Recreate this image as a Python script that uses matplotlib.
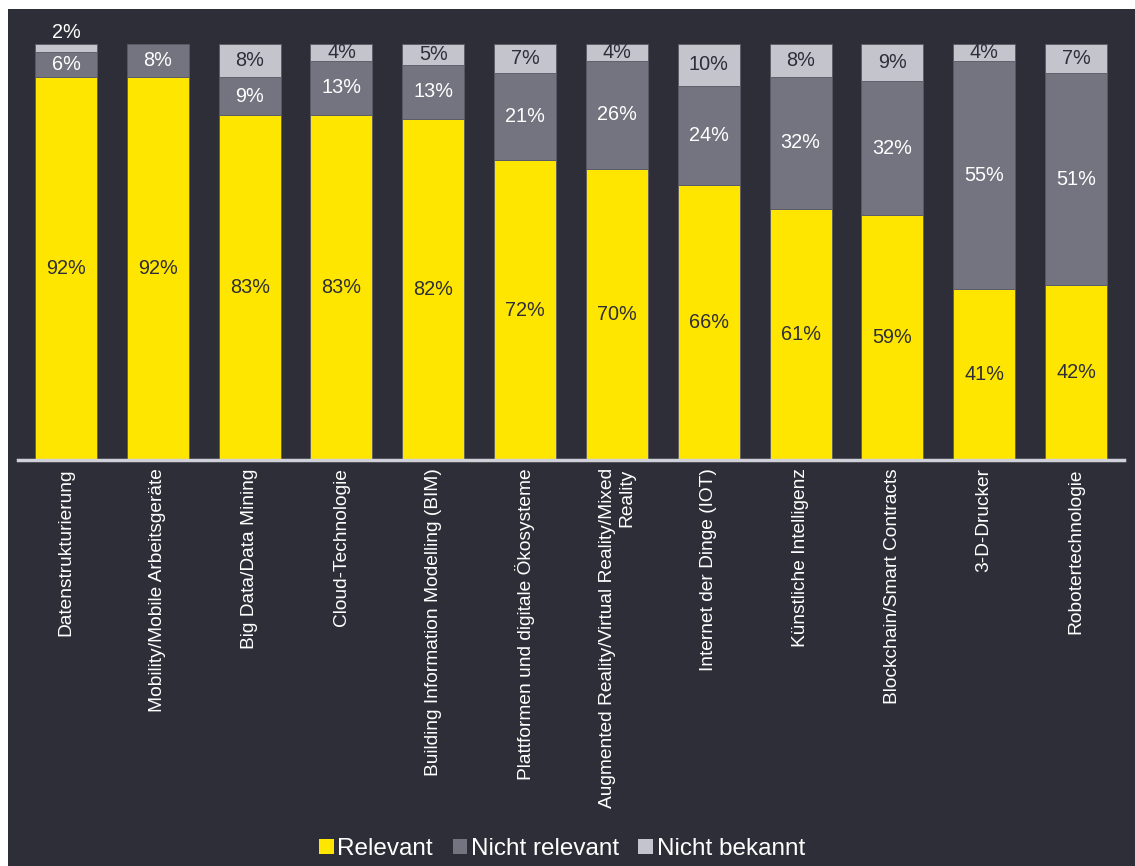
import matplotlib
matplotlib.use("Agg")
import matplotlib.pyplot as plt
from matplotlib.patches import Rectangle, Patch
import numpy as np

plt.rcParams['font.family'] = ['Liberation Sans', 'DejaVu Sans']

# data
categories = [
    "Datenstrukturierung",
    "Mobility/Mobile Arbeitsgeräte",
    "Big Data/Data Mining",
    "Cloud-Technologie",
    "Building Information Modelling (BIM)",
    "Plattformen und digitale Ökosysteme",
    "Augmented Reality/Virtual Reality/Mixed\nReality",
    "Internet der Dinge (IOT)",
    "Künstliche Intelligenz",
    "Blockchain/Smart Contracts",
    "3-D-Drucker",
    "Robotertechnologie",
]
relevant = [92, 92, 83, 83, 82, 72, 70, 66, 61, 59, 41, 42]
nicht_relevant = [6, 8, 9, 13, 13, 21, 26, 24, 32, 32, 55, 51]
nicht_bekannt = [2, 0, 8, 4, 5, 7, 4, 10, 8, 9, 4, 7]
series_names = ["Relevant", "Nicht relevant", "Nicht bekannt"]

BG = "#2e2e38"
YELLOW = "#ffe600"
MID = "#747480"
LIGHT = "#c4c4cd"
colors = [YELLOW, MID, LIGHT]
text_colors = [BG, "white", BG]

W, H = 1135, 866
fig = plt.figure(figsize=(W / 100, H / 100), dpi=100, facecolor=BG)

# white margin at top and left like the screenshot
fig.patches.append(Rectangle((0, 1 - 9 / H), 1, 9 / H, transform=fig.transFigure,
                             facecolor="white", edgecolor="none", zorder=0))
fig.patches.append(Rectangle((0, 0), 8 / W, 1, transform=fig.transFigure,
                             facecolor="white", edgecolor="none", zorder=0))

left_px, right_px = 18, 1124
base_px, top_px = 460, 44
ax = fig.add_axes([left_px / W, (H - base_px) / H,
                   (right_px - left_px) / W, (base_px - top_px) / H])
ax.set_facecolor(BG)

pitch = (1076 - 66) / 11
x = np.arange(len(categories))
ax.set_xlim(-(66 - left_px) / pitch, 11 + (right_px - 1076) / pitch)
ax.set_ylim(0, 100)

data = np.array([relevant, nicht_relevant, nicht_bekannt], dtype=float)
totals = data.sum(axis=0)
shares = data / totals * 100

bottom = np.zeros(len(categories))
for i in range(3):
    ax.bar(x, shares[i], 62 / pitch, bottom=bottom, color=colors[i],
           edgecolor="#5a5a66", linewidth=0.6, zorder=2)
    for j in range(len(categories)):
        v = data[i, j]
        if v == 0:
            continue
        if v < 4:
            # too thin, label above the bar
            ax.text(x[j], 100 + 0.4, f"{int(v)}%", ha="center", va="bottom",
                    color="white", fontsize=14.3)
        else:
            ax.text(x[j], bottom[j] + shares[i, j] / 2, f"{int(v)}%",
                    ha="center", va="center", color=text_colors[i], fontsize=14.3)
    bottom += shares[i]

for s in ["top", "right", "left"]:
    ax.spines[s].set_visible(False)
ax.spines["bottom"].set_color("#d0d0d8")
ax.spines["bottom"].set_linewidth(2.5)
ax.set_yticks([])
ax.set_xticks(x)
ax.set_xticklabels(categories, rotation=90, fontsize=13.8, color="white")
for lab in ax.get_xticklabels():
    lab.set_multialignment("right")
ax.tick_params(axis="x", length=0, pad=6)

handles = [Patch(facecolor=c, edgecolor="none") for c in colors]
leg = fig.legend(handles, series_names, loc="center", bbox_to_anchor=(562 / W, 1 - 849 / H),
                 ncol=3, frameon=False, fontsize=17.5, handlelength=0.6, handleheight=0.6,
                 handletextpad=0.15, columnspacing=0.8)
for t in leg.get_texts():
    t.set_color("white")

fig.savefig("out.png", dpi=100, facecolor=BG)
